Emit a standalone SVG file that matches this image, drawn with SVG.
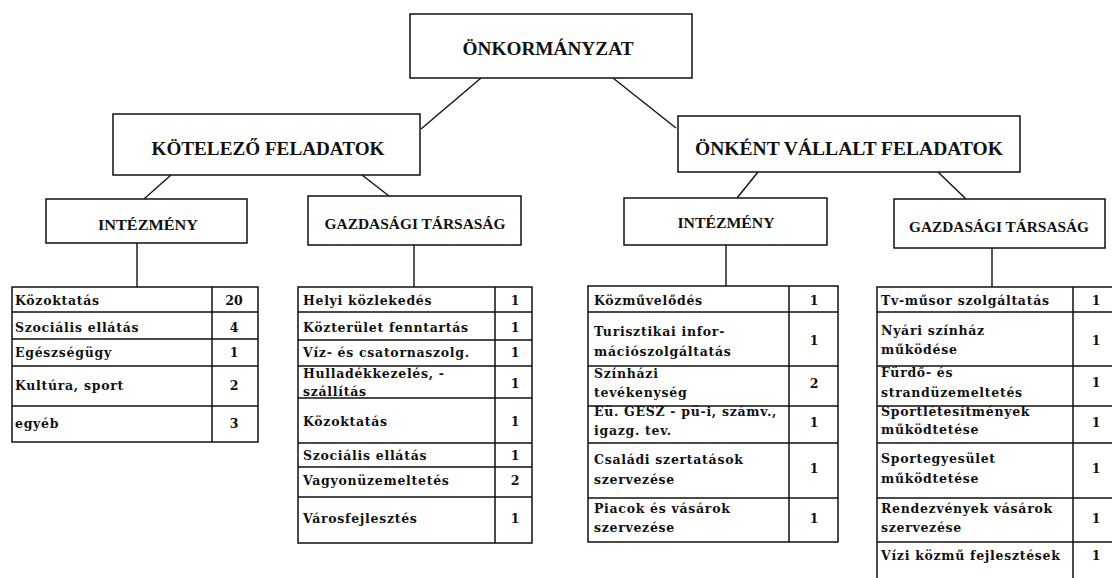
<svg xmlns="http://www.w3.org/2000/svg" width="1112" height="578" viewBox="0 0 1112 578">
<style>
.bg{fill:#fff}
.box{fill:#fff;stroke:#111;stroke-width:1.5}
.ln{stroke:#111;stroke-width:1.4;fill:none}
.tb{stroke:#111;stroke-width:1.5;fill:none}
.h1{font-family:"Liberation Serif","Times New Roman",serif;font-weight:bold;font-size:19px;fill:#111;text-anchor:middle}
.h2{font-family:"Liberation Serif","Times New Roman",serif;font-weight:bold;font-size:15px;fill:#111;text-anchor:middle}
.t{font-family:"DejaVu Serif",serif;font-weight:bold;font-size:12.5px;letter-spacing:0.7px;fill:#111}
.n{font-family:"DejaVu Serif",serif;font-weight:bold;font-size:12.5px;fill:#111;text-anchor:middle}
</style>
<rect class="bg" x="0" y="0" width="1112" height="578"/>
<g id="connectors">
<line class="ln" x1="481" y1="78" x2="421" y2="129"/>
<line class="ln" x1="613" y1="78" x2="676" y2="128"/>
<line class="ln" x1="171" y1="175" x2="144" y2="199"/>
<line class="ln" x1="362" y1="175" x2="389" y2="196"/>
<line class="ln" x1="758" y1="172" x2="737" y2="198"/>
<line class="ln" x1="938" y1="172" x2="966" y2="199"/>
<line class="ln" x1="137" y1="243" x2="137" y2="287"/>
<line class="ln" x1="414" y1="245" x2="414" y2="287"/>
<line class="ln" x1="726" y1="245" x2="726" y2="286"/>
<line class="ln" x1="992" y1="248" x2="992" y2="287"/>
</g>
<g id="onkormanyzat">
<rect class="box" x="410" y="14" width="282" height="64"/>
<text class="h1" x="548" y="55" font-size="18" textLength="171" lengthAdjust="spacingAndGlyphs">ÖNKORMÁNYZAT</text>
</g>
<g id="kotelezo">
<rect class="box" x="113" y="114" width="307" height="61"/>
<text class="h1" x="268" y="155" textLength="233" lengthAdjust="spacingAndGlyphs">KÖTELEZŐ FELADATOK</text>
</g>
<g id="onkent">
<rect class="box" x="678" y="116" width="342" height="56"/>
<text class="h1" x="849" y="155" textLength="308" lengthAdjust="spacingAndGlyphs">ÖNKÉNT VÁLLALT FELADATOK</text>
</g>
<g id="kot-intezmeny">
<rect class="box" x="46" y="199" width="201" height="44"/>
<text class="h2" x="148" y="230" textLength="100" lengthAdjust="spacingAndGlyphs">INTÉZMÉNY</text>
</g>
<g id="kot-gazdasagi">
<rect class="box" x="308" y="196" width="213" height="49"/>
<text class="h2" x="415" y="229" textLength="181" lengthAdjust="spacingAndGlyphs">GAZDASÁGI TÁRSASÁG</text>
</g>
<g id="onk-intezmeny">
<rect class="box" x="624" y="198" width="203" height="47"/>
<text class="h2" x="726" y="228" textLength="97" lengthAdjust="spacingAndGlyphs">INTÉZMÉNY</text>
</g>
<g id="onk-gazdasagi">
<rect class="box" x="894" y="199" width="211" height="49"/>
<text class="h2" x="999" y="232" textLength="180" lengthAdjust="spacingAndGlyphs">GAZDASÁGI TÁRSASÁG</text>
</g>
<g id="table-kot-intezmeny">
<rect class="tb" x="12" y="287" width="246" height="155"/>
<path class="tb" d="M212 287V442M12 312H258M12 339H258M12 366H258M12 406H258"/>
<text class="t" x="15" y="305">Közoktatás</text><text class="n" x="234" y="305">20</text>
<text class="t" x="15" y="332">Szociális ellátás</text><text class="n" x="234" y="332">4</text>
<text class="t" x="15" y="357">Egészségügy</text><text class="n" x="234" y="357">1</text>
<text class="t" x="15" y="390">Kultúra, sport</text><text class="n" x="234" y="390">2</text>
<text class="t" x="15" y="428">egyéb</text><text class="n" x="234" y="428">3</text>
</g>
<g id="table-kot-gazdasagi">
<rect class="tb" x="298" y="287" width="234" height="256"/>
<path class="tb" d="M495 287V543M298 312H532M298 340H532M298 366H532M298 398H532M298 443H532M298 467H532M298 497H532"/>
<text class="t" x="303" y="305">Helyi közlekedés</text><text class="n" x="515" y="305">1</text>
<text class="t" x="303" y="332">Közterület fenntartás</text><text class="n" x="515" y="332">1</text>
<text class="t" x="303" y="357">Víz- és csatornaszolg.</text><text class="n" x="515" y="357">1</text>
<text class="t" x="303" y="378">Hulladékkezelés, -</text><text class="t" x="303" y="396">szállítás</text><text class="n" x="515" y="388">1</text>
<text class="t" x="303" y="426">Közoktatás</text><text class="n" x="515" y="426">1</text>
<text class="t" x="303" y="460">Szociális ellátás</text><text class="n" x="515" y="460">1</text>
<text class="t" x="303" y="485">Vagyonüzemeltetés</text><text class="n" x="515" y="485">2</text>
<text class="t" x="303" y="523">Városfejlesztés</text><text class="n" x="515" y="523">1</text>
</g>
<g id="table-onk-intezmeny">
<rect class="tb" x="588" y="286" width="250" height="256"/>
<path class="tb" d="M789 286V542M588 312H838M588 366H838M588 406H838M588 443H838M588 498H838"/>
<text class="t" x="594" y="305">Közművelődés</text><text class="n" x="814" y="305">1</text>
<text class="t" x="594" y="336">Turisztikai infor-</text><text class="t" x="594" y="356">mációszolgáltatás</text><text class="n" x="814" y="345">1</text>
<text class="t" x="594" y="378">Színházi</text><text class="t" x="594" y="397">tevékenység</text><text class="n" x="814" y="388">2</text>
<text class="t" x="594" y="416">Eü. GESZ - pü-i, számv.,</text><text class="t" x="594" y="435">igazg. tev.</text><text class="n" x="814" y="427">1</text>
<text class="t" x="594" y="464">Családi szertatások</text><text class="t" x="594" y="484">szervezése</text><text class="n" x="814" y="473">1</text>
<text class="t" x="594" y="513">Piacok és vásárok</text><text class="t" x="594" y="532">szervezése</text><text class="n" x="814" y="523">1</text>
</g>
<g id="table-onk-gazdasagi">
<rect class="tb" x="877" y="287" width="242" height="300"/>
<path class="tb" d="M1073 287V590M877 312H1119M877 366H1119M877 406H1119M877 443H1119M877 498H1119M877 542H1119"/>
<text class="t" x="881" y="305">Tv-műsor szolgáltatás</text><text class="n" x="1096" y="305">1</text>
<text class="t" x="881" y="335">Nyári színház</text><text class="t" x="881" y="354">működése</text><text class="n" x="1096" y="345">1</text>
<text class="t" x="881" y="377">Fürdő- és</text><text class="t" x="881" y="397">strandüzemeltetés</text><text class="n" x="1096" y="387">1</text>
<text class="t" x="881" y="416">Sportlétesítmények</text><text class="t" x="881" y="434">működtetése</text><text class="n" x="1096" y="427">1</text>
<text class="t" x="881" y="463">Sportegyesület</text><text class="t" x="881" y="483">működtetése</text><text class="n" x="1096" y="473">1</text>
<text class="t" x="881" y="513">Rendezvények vásárok</text><text class="t" x="881" y="532">szervezése</text><text class="n" x="1096" y="523">1</text>
<text class="t" x="881" y="560">Vízi közmű fejlesztések</text><text class="n" x="1096" y="560">1</text>
</g>
</svg>
